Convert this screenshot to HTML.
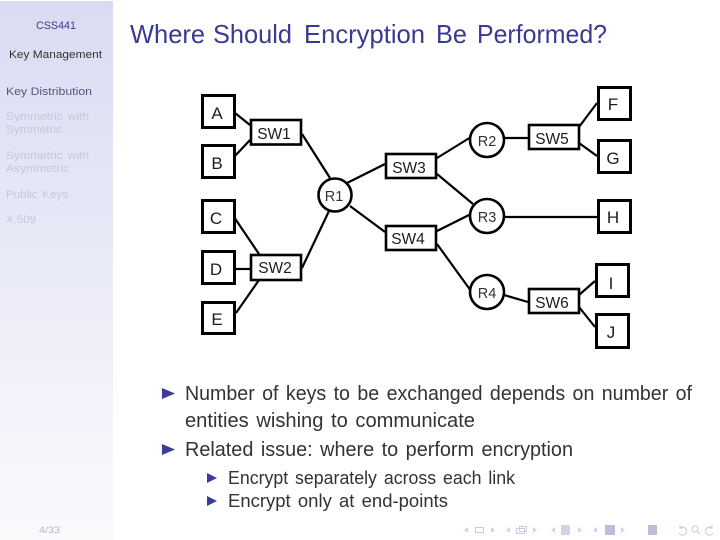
<!DOCTYPE html>
<html><head><meta charset="utf-8"><style>
html,body{margin:0;padding:0;background:#fff}
svg{display:block}
text{font-family:"Liberation Sans",sans-serif}
.n{font-size:17px;text-anchor:middle;fill:#1c1c1c}
.s{font-size:15.5px;text-anchor:middle;fill:#1c1c1c}
.r{font-size:14.5px;text-anchor:middle;fill:#333}
.b{fill:#fff;stroke:#000;stroke-width:3}
.t{fill:#fff;stroke:#000;stroke-width:2.6}
.l{stroke:#000;stroke-width:2.200;fill:none}
.d{fill:#c6c7dd;font-size:11px;word-spacing:1.500px}
.m{fill:#333;font-size:20px;word-spacing:2px}
.m2{fill:#333;font-size:18px;word-spacing:2px}
.a{fill:#3b3b98}
.i{fill:#d2d2e8}
.k{fill:#bcbcdc}
.o{fill:none;stroke:#c8c8e0;stroke-width:1}
</style></head><body>
<svg width="720" height="540" viewBox="0 0 720 540" xmlns="http://www.w3.org/2000/svg">
<defs><linearGradient id="g" x1="0" y1="0" x2="0" y2="1"><stop offset="0" stop-color="#dadbf2"/><stop offset="1" stop-color="#fafafd"/></linearGradient></defs>
<rect width="720" height="540" fill="#fff"/>
<rect x="0" y="1" width="113" height="539" fill="url(#g)"/>

<text x="36" y="29" font-size="11" fill="#3a3a8c" textLength="40" lengthAdjust="spacingAndGlyphs">CSS441</text>
<text x="9" y="58" font-size="11" fill="#333" textLength="93" lengthAdjust="spacingAndGlyphs">Key Management</text>
<text x="6" y="95" font-size="11" fill="#55557c" textLength="86" lengthAdjust="spacingAndGlyphs">Key Distribution</text>
<text class="d" x="6" y="120" textLength="83" lengthAdjust="spacingAndGlyphs">Symmetric with</text>
<text class="d" x="6" y="133" textLength="56" lengthAdjust="spacingAndGlyphs">Symmetric</text>
<text class="d" x="6" y="159" textLength="83" lengthAdjust="spacingAndGlyphs">Symmetric with</text>
<text class="d" x="6" y="172" textLength="63" lengthAdjust="spacingAndGlyphs">Asymmetric</text>
<text class="d" x="6" y="198" textLength="62" lengthAdjust="spacingAndGlyphs">Public Keys</text>
<text class="d" x="6" y="223" textLength="30" lengthAdjust="spacingAndGlyphs">X.509</text>
<text x="39" y="533" font-size="9.500" fill="#b4b4cc" textLength="21" lengthAdjust="spacingAndGlyphs">4/33</text>

<g font-size="26" fill="#3a3a90">
<text x="130" y="43" textLength="75" lengthAdjust="spacingAndGlyphs">Where</text>
<text x="213" y="43" textLength="79" lengthAdjust="spacingAndGlyphs">Should</text>
<text x="304" y="43" textLength="121" lengthAdjust="spacingAndGlyphs">Encryption</text>
<text x="436" y="43" textLength="31" lengthAdjust="spacingAndGlyphs">Be</text>
<text x="477" y="43" textLength="130" lengthAdjust="spacingAndGlyphs">Performed?</text>
</g>

<g class="l">
<line x1="235" y1="113" x2="250" y2="125"/>
<line x1="234" y1="157" x2="250" y2="140"/>
<line x1="302" y1="134" x2="330" y2="178"/>
<line x1="234" y1="217" x2="259" y2="254"/>
<line x1="235" y1="269" x2="251" y2="269"/>
<line x1="236" y1="313" x2="259" y2="280"/>
<line x1="302" y1="268" x2="329" y2="211"/>
<line x1="347" y1="183" x2="385" y2="164"/>
<line x1="350" y1="206" x2="385" y2="232"/>
<line x1="437" y1="158" x2="471" y2="137"/>
<line x1="437" y1="174" x2="473" y2="204"/>
<line x1="437" y1="231" x2="471" y2="214"/>
<line x1="437" y1="244" x2="471" y2="291"/>
<line x1="505" y1="138" x2="528" y2="138"/>
<line x1="505" y1="217" x2="597" y2="217"/>
<line x1="504" y1="295" x2="528" y2="302"/>
<line x1="579" y1="127" x2="597" y2="103"/>
<line x1="579" y1="143" x2="597" y2="156"/>
<line x1="579" y1="295" x2="595" y2="281"/>
<line x1="579" y1="307" x2="595" y2="327"/>
</g>

<rect class="b" x="202.500" y="95.500" width="32" height="32"/>
<rect class="b" x="202.500" y="145.500" width="32" height="32"/>
<rect class="b" x="202.500" y="200.500" width="32" height="32"/>
<rect class="b" x="202.500" y="251.500" width="32" height="32"/>
<rect class="b" x="202.500" y="302.500" width="32" height="31"/>
<rect class="b" x="598.500" y="87.500" width="32" height="32"/>
<rect class="b" x="598.500" y="140.500" width="32" height="32"/>
<rect class="b" x="598.500" y="200.500" width="32" height="32"/>
<rect class="b" x="596.500" y="264.500" width="32" height="32"/>
<rect class="b" x="596.500" y="314.500" width="32" height="33"/>

<rect class="t" x="251" y="120" width="50" height="24.500"/>
<rect class="t" x="251" y="255" width="50" height="25"/>
<rect class="t" x="386" y="154" width="50" height="24"/>
<rect class="t" x="386" y="226" width="50" height="24"/>
<rect class="t" x="529" y="125" width="50" height="24"/>
<rect class="t" x="529" y="289" width="50" height="24"/>

<circle class="t" cx="335" cy="195" r="16.500"/>
<circle class="t" cx="487" cy="140" r="17"/>
<circle class="t" cx="487" cy="216" r="17"/>
<circle class="t" cx="487" cy="292" r="17"/>

<text class="n" x="217" y="119">A</text>
<text class="n" x="217" y="169">B</text>
<text class="n" x="216" y="224">C</text>
<text class="n" x="216" y="275">D</text>
<text class="n" x="217" y="325">E</text>
<text class="n" x="613" y="110">F</text>
<text class="n" x="613" y="164">G</text>
<text class="n" x="613" y="223">H</text>
<text class="n" x="611" y="289">I</text>
<text class="n" x="611" y="338">J</text>

<text class="s" x="274" y="139">SW1</text>
<text class="s" x="275" y="273">SW2</text>
<text class="s" x="409" y="173">SW3</text>
<text class="s" x="408" y="244">SW4</text>
<text class="s" x="552" y="144">SW5</text>
<text class="s" x="552" y="308">SW6</text>

<text class="r" x="334" y="201">R1</text>
<text class="r" x="487" y="146">R2</text>
<text class="r" x="487" y="222">R3</text>
<text class="r" x="487" y="298">R4</text>

<polygon class="a" points="162,388 175,393.500 162,399"/>
<polygon class="a" points="162,444 175,449.500 162,455"/>
<polygon class="a" points="207,473 217,478 207,483"/>
<polygon class="a" points="207,496 217,501 207,506"/>

<text class="m" x="185" y="400" textLength="507" lengthAdjust="spacingAndGlyphs">Number of keys to be exchanged depends on number of</text>
<text class="m" x="185" y="427" textLength="290" lengthAdjust="spacingAndGlyphs">entities wishing to communicate</text>
<text class="m" x="185" y="456" textLength="388" lengthAdjust="spacingAndGlyphs">Related issue: where to perform encryption</text>
<text class="m2" x="228" y="484" textLength="287" lengthAdjust="spacingAndGlyphs">Encrypt separately across each link</text>
<text class="m2" x="228" y="507" textLength="220" lengthAdjust="spacingAndGlyphs">Encrypt only at end-points</text>

<g>
<polygon class="i" points="464,530 468,527 468,533"/>
<rect class="o" x="475.500" y="527.500" width="8" height="5"/>
<polygon class="i" points="495,530 491,527 491,533"/>
<polygon class="i" points="506,530 510,527 510,533"/>
<rect class="o" x="516.500" y="528.500" width="8" height="5"/>
<rect class="o" x="519.500" y="526.500" width="7" height="5"/>
<polygon class="i" points="537,530 533,527 533,533"/>
<polygon class="i" points="551,530 555,527 555,533"/>
<rect class="i" x="561" y="525" width="9" height="10"/>
<polygon class="i" points="582,530 578,527 578,533"/>
<polygon class="i" points="593,530 597,527 597,533"/>
<rect class="k" x="605" y="525" width="10" height="10"/>
<polygon class="i" points="625,530 621,527 621,533"/>
<rect class="k" x="648" y="525" width="9" height="10"/>
<path class="o" d="M680 528 a4 4 0 1 1 -1 5 M680 525 v3 h3"/>
<circle class="o" cx="695" cy="529" r="3"/>
<line class="o" x1="697" y1="531" x2="700" y2="534"/>
<path class="o" d="M712 528 a4 4 0 1 0 1 5 M712 525 v3 h-3"/>
</g>
</svg>
</body></html>
